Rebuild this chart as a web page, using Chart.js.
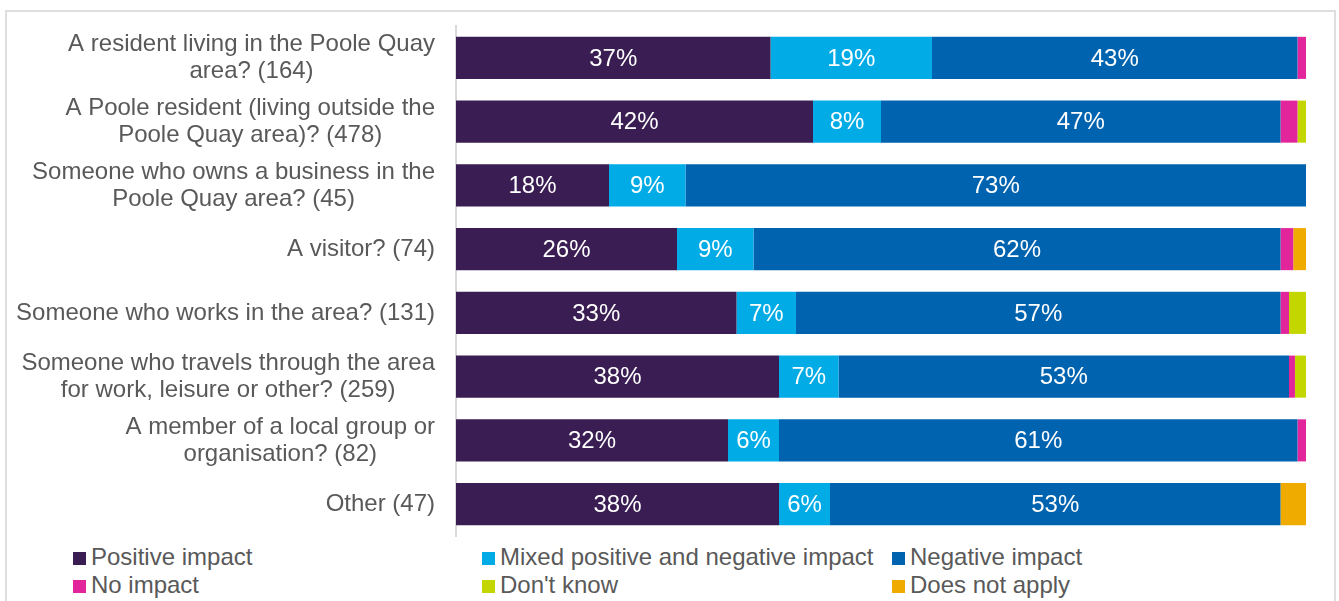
<!DOCTYPE html>
<html>
<head>
<meta charset="utf-8">
<script src="https://cdn.jsdelivr.net/npm/chart.js@4"></script>
<style>
  html, body { margin: 0; padding: 0; background: #fff; }
  body { width: 1339px; height: 601px; position: relative; overflow: hidden; font-family: "Liberation Sans", Arial, sans-serif; }
  .frame { position: absolute; left: 5px; top: 10px; width: 1327px; height: 600px; border: 2px solid #dedede; border-bottom: none; }
  .wrap { position: absolute; left: 0; top: 0; width: 1339px; height: 540px; }
  .legend { position: absolute; left: 0; top: 543px; width: 1339px; height: 58px; }
  .legend .item { position: absolute; height: 28px; font-size: 24px; color: #595959; line-height: 28px; white-space: nowrap; padding-left: 18px; }
  .legend .sw { position: absolute; left: 0; top: 9px; width: 13px; height: 13px; }
</style>
</head>
<body>
<div class="frame"></div>
<div class="wrap"><canvas id="barchart"></canvas></div>
<div class="legend" id="legend"></div>
<script>
  // Категории (подписи оси Y)
  const categories = [
    ['A resident living in the Poole Quay', 'area? (164)'],
    ['A Poole resident (living outside the', 'Poole Quay area)? (478)'],
    ['Someone who owns a business in the', 'Poole Quay area? (45)'],
    ['A visitor? (74)'],
    ['Someone who works in the area? (131)'],
    ['Someone who travels through the area', 'for work, leisure or other? (259)'],
    ['A member of a local group or', 'organisation? (82)'],
    ['Other (47)']
  ];

  // Значения в процентах по каждому ответу
  const positive     = [37, 42, 18, 26, 33, 38, 32, 38];
  const mixed        = [19, 8, 9, 9, 7, 7, 6, 6];
  const negative     = [43, 47, 73, 62, 57, 53, 61, 53];
  const noImpact     = [1, 2, 0, 1.5, 1, 0.7, 1, 0];
  const dontKnow     = [0, 1, 0, 0, 2, 1.3, 0, 0];
  const doesNotApply = [0, 0, 0, 1.5, 0, 0, 0, 3];

  const seriesNames = ['Positive impact', 'Mixed positive and negative impact', 'Negative impact',
                       'No impact', "Don't know", 'Does not apply'];
  const seriesColors = ['#3a1d52', '#00abe6', '#0063af', '#e2259b', '#c4d600', '#f0ab00'];
  const seriesData = [positive, mixed, negative, noImpact, dontKnow, doesNotApply];

  const FONT = '"Liberation Sans", Arial, sans-serif';

  // Подписи процентов внутри сегментов
  const valueLabels = {
    id: 'valueLabels',
    afterDatasetsDraw(chart) {
      const ctx = chart.ctx;
      ctx.save();
      ctx.font = '24px ' + FONT;
      ctx.fillStyle = '#ffffff';
      ctx.textAlign = 'center';
      ctx.textBaseline = 'middle';
      chart.data.datasets.forEach((ds, i) => {
        const meta = chart.getDatasetMeta(i);
        meta.data.forEach((bar, j) => {
          const v = ds.data[j];
          if (v < 5) return;
          ctx.fillText(v + '%', (bar.x + bar.base) / 2, bar.y + 1);
        });
      });
      ctx.restore();
    }
  };

  // Подписи категорий: блок прижат вправо, строки внутри по центру
  const categoryLabels = {
    id: 'categoryLabels',
    afterDraw(chart) {
      const ctx = chart.ctx;
      const yScale = chart.scales.y;
      const right = yScale.right - 21;
      const lineH = 27;
      ctx.save();
      ctx.font = '24px ' + FONT;
      ctx.fillStyle = '#595959';
      ctx.textAlign = 'center';
      ctx.textBaseline = 'middle';
      categories.forEach((lines, i) => {
        const y = yScale.getPixelForValue(i);
        const w = Math.max(...lines.map(l => ctx.measureText(l).width));
        const cx = right - w / 2;
        const y0 = y - (lines.length - 1) * lineH / 2;
        lines.forEach((l, k) => ctx.fillText(l, cx, y0 + k * lineH));
      });
      ctx.restore();
    }
  };

  const canvas = document.getElementById('barchart');
  const barchart = new Chart(canvas.getContext('2d'), {
    type: 'bar',
    data: {
      labels: categories.map(c => c.join(' ')),
      datasets: seriesData.map((d, i) => ({
        label: seriesNames[i],
        data: d,
        backgroundColor: seriesColors[i],
        categoryPercentage: 1,
        barPercentage: 0.66
      }))
    },
    options: {
      indexAxis: 'y',
      responsive: true,
      maintainAspectRatio: false,
      animation: false,
      layout: {
        padding: { top: 26, right: 33, bottom: 4, left: 0 }
      },
      scales: {
        x: {
          stacked: true,
          display: false,
          min: 0,
          max: 100
        },
        y: {
          stacked: true,
          grid: { display: false, drawTicks: false },
          border: { display: true, color: '#d9d9d9', width: 2 },
          ticks: { display: false },
          afterFit(scale) {
            scale.width = 456;
            scale.paddingTop = 0;
            scale.paddingBottom = 0;
          }
        }
      },
      plugins: {
        legend: false,
        tooltip: { enabled: false }
      }
    },
    plugins: [valueLabels, categoryLabels]
  });

  // Легенда в три колонки
  const legend = document.getElementById('legend');
  const colX = [73, 482, 892];
  seriesNames.forEach((name, i) => {
    const item = document.createElement('div');
    item.className = 'item';
    item.style.left = colX[i % 3] + 'px';
    item.style.top = (Math.floor(i / 3) * 28) + 'px';
    item.innerHTML = '<span class="sw" style="background:' + seriesColors[i] + '"></span>' + name;
    legend.appendChild(item);
  });
</script>
</body>
</html>
